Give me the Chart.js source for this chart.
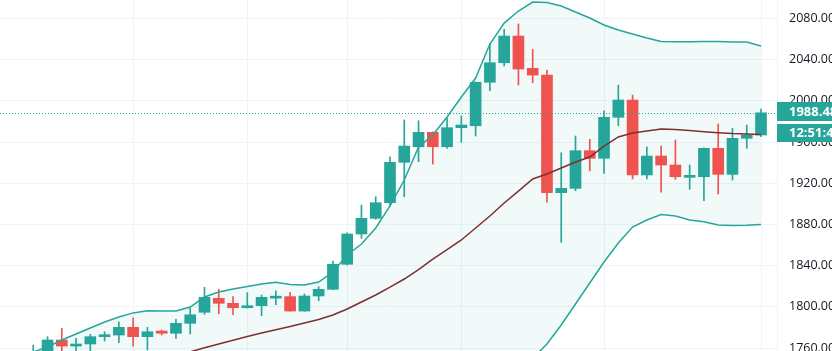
<!DOCTYPE html>
<html>
<head>
<meta charset="utf-8">
<script src="https://cdn.jsdelivr.net/npm/chart.js@4.4.1/dist/chart.umd.min.js"></script>
<style>
  html, body { margin: 0; padding: 0; background: #ffffff; overflow: hidden; }
</style>
</head>
<body>
<canvas id="priceChart" width="832" height="351"></canvas>
<script>
// OHLC candles (index 0 = leftmost visible candle)
const opens = [1748, 1755, 1767.9, 1762, 1764, 1771.1, 1772.7, 1780.2, 1771.1, 1776.6,
  1774.4, 1784.1, 1794.8, 1808.3, 1803.5, 1799.2, 1801.2, 1808.5, 1810.0, 1796.0,
  1810.6, 1817.1, 1841.4, 1870.8, 1886.0, 1901.2, 1940.4, 1955.5, 1969.5, 1955.5,
  1974.0, 1975.9, 2018.1, 2037.1, 2063.0, 2031.7, 2025.1, 1910.9, 1915.1, 1951.7,
  1944.3, 1984.1, 2000.9, 1928.1, 1946.5, 1937.8, 1925.8, 1926.4, 1954.0, 1928.7,
  1963.7, 1966.9];
const highs = [1763, 1771.1, 1779.2, 1769.5, 1773.4, 1775.9, 1785.6, 1789.5, 1780.2, 1777.5,
  1788.0, 1798.6, 1819.0, 1817.1, 1810.0, 1813.8, 1811.5, 1815.6, 1814.2, 1812.5,
  1819.6, 1844.6, 1872.0, 1898.9, 1907.0, 1945.8, 1981.5, 1980.8, 1970.0, 1983.1,
  1985.3, 2018.5, 2055.9, 2069.5, 2074.7, 2050.1, 2030.0, 1949.7, 1965.9, 1962.7,
  1990.5, 2015.4, 2005.7, 1955.5, 1956.2, 1962.0, 1937.8, 1954.5, 1977.6, 1973.4,
  1976.6, 1992.1];
const lows = [1740, 1748, 1752, 1754, 1757, 1766.9, 1765.2, 1762, 1758.2, 1772.7,
  1769.5, 1773.7, 1792.8, 1793.4, 1792.4, 1799.0, 1791.5, 1802.3, 1795.8, 1795.8,
  1806.0, 1816.8, 1840.8, 1866.6, 1885.0, 1898.0, 1907.0, 1941.0, 1938.7, 1954.0,
  1959.8, 1965.9, 2009.9, 2033.9, 2015.4, 2017.7, 1901.6, 1862.7, 1912.8, 1932.2,
  1929.7, 1975.9, 1924.2, 1924.2, 1911.3, 1923.9, 1914.2, 1903.1, 1909.6, 1923.2,
  1954.0, 1965.2];
const closes = [1755, 1767.9, 1762, 1764, 1771.1, 1772.7, 1780.2, 1771.1, 1775.9, 1774.4,
  1784.1, 1792.4, 1809.3, 1803.5, 1799.2, 1801.2, 1809.3, 1809.0, 1796.0, 1810.6,
  1817.1, 1841.4, 1870.8, 1886.0, 1901.2, 1940.4, 1956.2, 1969.5, 1955.5, 1974.0,
  1976.6, 2018.1, 2037.1, 2063.0, 2031.0, 2025.1, 1910.9, 1915.1, 1951.7, 1944.3,
  1984.1, 2000.9, 1928.1, 1946.5, 1937.8, 1926.4, 1926.6, 1954.0, 1928.7, 1963.7,
  1966.9, 1988.48];

// Bollinger bands as drawn on the picture
const upperBand = [1756.2, 1761.1, 1767.9, 1773.7, 1779.5, 1785.4, 1790.2, 1794.2, 1796.3, 1796.0,
  1796.0, 1799.9, 1809.6, 1814.5, 1817.4, 1819.8, 1822.2, 1823.9, 1821.7, 1821.3,
  1824.2, 1833.9, 1850.4, 1861.1, 1876.6, 1898.0, 1923.2, 1955.2, 1966.9, 1984.4,
  2003.8, 2022.2, 2055.2, 2075.6, 2087.3, 2096.0, 2095.5, 2092.1, 2086.3, 2080.5,
  2073.7, 2068.8, 2065.0, 2061.1, 2057.7, 2057.5, 2057.5, 2057.7, 2057.7, 2057.2,
  2057.2, 2053.3];
const middleBand = [1716.4, 1719.8, 1723.7, 1727.1, 1730.9, 1734.5, 1738.2, 1741.8, 1745.5, 1749.1,
  1752.8, 1756.4, 1760.3, 1764.0, 1767.6, 1771.3, 1774.7, 1777.8, 1781.0, 1784.4,
  1787.8, 1792.1, 1798.0, 1804.8, 1811.6, 1819.3, 1827.1, 1836.3, 1846.5, 1855.7,
  1865.0, 1876.6, 1888.3, 1900.9, 1912.5, 1924.2, 1929.0, 1934.9, 1940.7, 1945.5,
  1956.2, 1965.0, 1968.8, 1970.8, 1972.7, 1972.2, 1971.3, 1970.1, 1969.1, 1968.3,
  1967.9, 1967.4];
const lowerBand = [1676.6, 1678.5, 1679.5, 1680.5, 1682.3, 1683.6, 1686.2, 1689.4, 1694.7, 1702.2,
  1709.6, 1712.9, 1711.0, 1713.5, 1717.8, 1722.8, 1727.2, 1731.7, 1740.3, 1747.5,
  1751.4, 1750.3, 1745.6, 1748.5, 1746.6, 1740.6, 1731.0, 1717.4, 1726.1, 1727.0,
  1726.2, 1731.0, 1721.4, 1726.2, 1737.7, 1750.0, 1764.0, 1782.4, 1802.8, 1823.2,
  1843.6, 1862.0, 1877.6, 1884.4, 1889.7, 1888.3, 1884.4, 1882.7, 1879.5, 1879.0,
  1879.2, 1880.0];

const priceTicks = [1760, 1800, 1840, 1880, 1920, 1960, 2000, 2040, 2080];
const timeGridAt = [7, 15, 22, 30, 40, 51]; // candles that carry a vertical time line
const countdown = '12:51:47';

const upColor = '#26a69a';
const downColor = '#ef5350';

const idx = opens.map((_, i) => i);
const candleColors = idx.map(i => (closes[i] >= opens[i] ? upColor : downColor));
const lastClose = closes[closes.length - 1];

const lastPricePlugin = {
  id: 'lastPrice',
  afterDatasetsDraw(chart) {
    const { ctx, chartArea } = chart;
    const y = Math.round(chart.scales.y.getPixelForValue(lastClose)) + 0.5;
    ctx.save();
    ctx.strokeStyle = upColor;
    ctx.lineWidth = 1;
    ctx.setLineDash([1, 2]);
    ctx.beginPath();
    ctx.moveTo(chartArea.left, y);
    ctx.lineTo(chartArea.right, y);
    ctx.stroke();
    ctx.restore();
  },
  afterDraw(chart) {
    const { ctx, chartArea, width } = chart;
    const y = chart.scales.y.getPixelForValue(lastClose);
    const x = chartArea.right;
    ctx.save();
    ctx.fillStyle = upColor;
    ctx.fillRect(x, Math.round(y - 11), width - x, 19);
    ctx.fillRect(x, Math.round(y + 11), width - x, 18);
    ctx.fillStyle = '#ffffff';
    ctx.font = 'bold 13px "Open Sans", sans-serif';
    ctx.textBaseline = 'middle';
    ctx.textAlign = 'left';
    ctx.fillText(lastClose.toFixed(2), chartArea.right + 12, Math.round(y - 11) + 10);
    ctx.fillText(countdown, chartArea.right + 12, Math.round(y + 11) + 9.5);
    ctx.restore();
  }
};

const ctx = document.getElementById('priceChart').getContext('2d');
const priceChart = new Chart(ctx, {
  type: 'bar',
  data: {
    datasets: [
      {
        type: 'line',
        label: 'Upper',
        data: idx.map(i => ({ x: i, y: upperBand[i] })),
        borderColor: '#26a69a',
        borderWidth: 1.5,
        pointRadius: 0,
        tension: 0,
        fill: { target: 2 },
        backgroundColor: 'rgba(20, 150, 160, 0.06)',
        order: 0,
      },
      {
        type: 'line',
        label: 'Basis',
        data: idx.map(i => ({ x: i, y: middleBand[i] })),
        borderColor: '#7e2f2f',
        borderWidth: 1.5,
        pointRadius: 0,
        tension: 0,
        fill: false,
        order: 0,
      },
      {
        type: 'line',
        label: 'Lower',
        data: idx.map(i => ({ x: i, y: lowerBand[i] })),
        borderColor: '#26a69a',
        borderWidth: 1.5,
        pointRadius: 0,
        tension: 0,
        fill: false,
        order: 0,
      },
      {
        label: 'Wick',
        data: idx.map(i => ({ x: i, y: [lows[i], highs[i]] })),
        backgroundColor: candleColors,
        barThickness: 1,
        grouped: false,
        order: 3,
      },
      {
        label: 'Body',
        data: idx.map(i => ({ x: i, y: [opens[i], closes[i]] })),
        backgroundColor: candleColors,
        barThickness: 11,
        minBarLength: 2,
        grouped: false,
        order: 2,
      },
    ],
  },
  options: {
    responsive: false,
    animation: false,
    layout: { padding: 0 },
    plugins: {
      legend: { display: false },
      tooltip: { enabled: false },
      filler: { drawTime: 'beforeDatasetsDraw' },
    },
    scales: {
      x: {
        type: 'linear',
        min: -2.33,
        max: 52.12,
        offset: false,
        afterBuildTicks: scale => { scale.ticks = timeGridAt.map(v => ({ value: v })); },
        afterFit: scale => {
          scale.height = 0;
          scale.paddingLeft = 0;
          scale.paddingRight = 0;
        },
        ticks: { display: false },
        grid: { color: '#f0f3fa', drawTicks: false, offset: false },
        border: { display: false },
      },
      y: {
        position: 'right',
        min: 1757.2,
        max: 2098,
        afterBuildTicks: scale => { scale.ticks = priceTicks.map(v => ({ value: v })); },
        afterFit: scale => {
          scale.width = 55;
          scale.paddingTop = 0;
          scale.paddingBottom = 0;
        },
        ticks: {
          color: '#131722',
          padding: 12,
          font: { family: '"Open Sans", sans-serif', size: 12.5 },
          callback: v => Number(v).toFixed(2),
        },
        grid: { color: '#f0f3fa', drawTicks: false },
        border: { display: true, color: '#f0f3fa' },
      },
    },
  },
  plugins: [lastPricePlugin],
});
</script>
</body>
</html>
